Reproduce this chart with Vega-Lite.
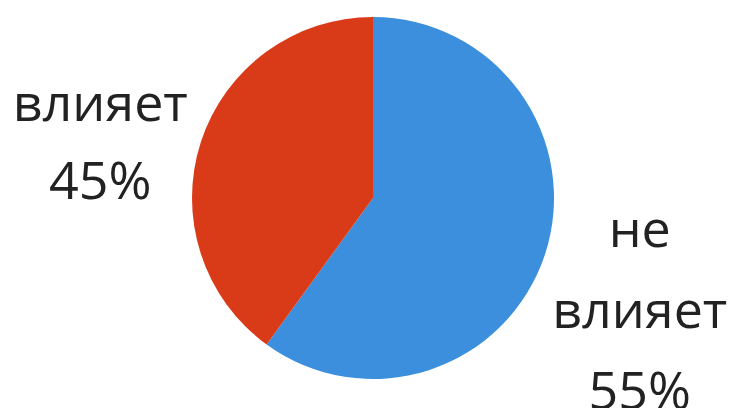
{
  "$schema": "https://vega.github.io/schema/vega-lite/v6.json",
  "width": 730,
  "height": 396,
  "autosize": {"type": "none"},
  "padding": {"left": 8, "right": 0, "top": 0, "bottom": 12},
  "background": "white",
  "config": {"view": {"stroke": null}},
  "data": {
    "values": [
      {"category": "не влияет", "share": 60, "order": 1, "label": "не\nвлияет\n55%"},
      {"category": "влияет", "share": 40, "order": 2, "label": "влияет\n45%"}
    ]
  },
  "encoding": {
    "theta": {"field": "share", "type": "quantitative", "stack": true},
    "order": {"field": "order", "type": "quantitative"}
  },
  "layer": [
    {
      "mark": {"type": "arc", "outerRadius": 181},
      "encoding": {
        "color": {
          "field": "category",
          "type": "nominal",
          "scale": {"domain": ["не влияет", "влияет"], "range": ["#3b8fdc", "#d93a18"]},
          "legend": null
        }
      }
    },
    {
      "mark": {"type": "text", "radius": 250, "dx": -35, "dy": 0, "align": "center", "baseline": "alphabetic", "lineBreak": "\n", "lineHeight": 78, "font": "Open Sans", "fontSize": 52, "color": "#222222"},
      "encoding": {"text": {"condition": {"test": "datum.order == 2", "field": "label"}, "value": ""}}
    },
    {
      "mark": {"type": "text", "radius": 250, "dx": 29, "dy": -28, "align": "center", "baseline": "alphabetic", "lineBreak": "\n", "lineHeight": 81, "font": "Open Sans", "fontSize": 52, "color": "#222222"},
      "encoding": {"text": {"condition": {"test": "datum.order == 1", "field": "label"}, "value": ""}}
    }
  ]
}
